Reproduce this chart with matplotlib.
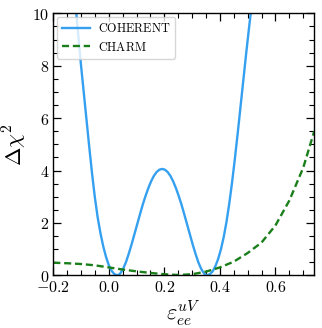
import matplotlib
matplotlib.use("Agg")
import matplotlib.pyplot as plt
from matplotlib.ticker import MultipleLocator, FuncFormatter

plt.rcParams['mathtext.fontset'] = 'cm'
plt.rcParams['font.family'] = ['DejaVu Serif']

# COHERENT curve
coh_x = [-0.125, -0.117, -0.110, -0.100, -0.090, -0.080, -0.070, -0.060, -0.050, -0.040,
         -0.030, -0.020, -0.010, 0.000, 0.010, 0.020, 0.030, 0.037, 0.042, 0.052,
         0.062, 0.072, 0.082, 0.092, 0.102, 0.112, 0.122, 0.132, 0.142, 0.152,
         0.162, 0.172, 0.182, 0.192, 0.202, 0.212, 0.222, 0.232, 0.242, 0.252,
         0.262, 0.272, 0.282, 0.292, 0.302, 0.312, 0.322, 0.332, 0.342, 0.347,
         0.354, 0.364, 0.374, 0.384, 0.394, 0.404, 0.414, 0.424, 0.434, 0.444,
         0.454, 0.464, 0.474, 0.484, 0.494, 0.504, 0.511, 0.520]
coh_y = [11.0, 10.0, 9.15, 8.0, 6.95, 5.9, 4.85, 3.85, 2.95, 2.2,
         1.6, 1.1, 0.7, 0.38, 0.17, 0.045, 0.0, 0.029, 0.083, 0.26,
         0.51, 0.83, 1.18, 1.56, 1.94, 2.32, 2.69, 3.02, 3.32, 3.58,
         3.79, 3.94, 4.03, 4.06, 4.03, 3.94, 3.79, 3.58, 3.32, 3.02,
         2.69, 2.32, 1.94, 1.56, 1.18, 0.83, 0.51, 0.26, 0.083, 0.029,
         0.0, 0.04, 0.15, 0.35, 0.63, 1.0, 1.47, 2.05, 2.75, 3.55,
         4.45, 5.4, 6.4, 7.4, 8.4, 9.35, 10.0, 10.9]

# CHARM curve
charm_x = [-0.2, -0.15, -0.1, -0.05, 0.0, 0.05, 0.1, 0.15, 0.2, 0.25, 0.3, 0.35,
           0.4, 0.45, 0.5, 0.55, 0.6, 0.65, 0.7, 0.74]
charm_y = [0.48, 0.46, 0.43, 0.38, 0.30, 0.22, 0.15, 0.09, 0.04, 0.01, 0.04, 0.14,
           0.30, 0.52, 0.85, 1.25, 1.9, 2.85, 4.1, 5.5]

fig = plt.figure(figsize=(3.22, 3.28), dpi=100)
ax = fig.add_axes([0.1655, 0.1607, 0.8105, 0.7987])

ax.plot(coh_x, coh_y, color='#35a0f0', lw=1.7, label=r'$\mathrm{COHERENT}$')
ax.plot(charm_x, charm_y, color='#1a7f1a', lw=1.7, ls=(0, (3.0, 1.6)), label=r'$\mathrm{CHARM}$')

ax.set_xlim(-0.2, 0.74)
ax.set_ylim(0, 10)
ax.xaxis.set_major_locator(MultipleLocator(0.2))
ax.xaxis.set_minor_locator(MultipleLocator(0.05))
ax.yaxis.set_major_locator(MultipleLocator(2))
ax.yaxis.set_minor_locator(MultipleLocator(0.5))

def fx(v, p):
    s = f"{v:.1f}"
    if s == "-0.0":
        s = "0.0"
    return "$" + s + "$"

def fy(v, p):
    return f"${int(round(v))}$"

ax.xaxis.set_major_formatter(FuncFormatter(fx))
ax.yaxis.set_major_formatter(FuncFormatter(fy))
ax.tick_params(which='both', direction='in', top=True, right=True, labelsize=11.5)
ax.tick_params(which='major', length=6, width=0.9, pad=3)
ax.tick_params(which='minor', length=3.5, width=0.8)
for s in ax.spines.values():
    s.set_linewidth(1.0)

ax.set_xlabel(r'$\varepsilon_{ee}^{uV}$', fontsize=16, labelpad=1)
ax.set_ylabel(r'$\Delta\chi^2$', fontsize=16, labelpad=2)

leg = ax.legend(loc='upper left', fontsize=8.8, frameon=True, fancybox=True,
                borderaxespad=0.3, handlelength=2.3, handletextpad=0.65,
                labelspacing=0.47)
leg.get_frame().set_edgecolor('#cccccc')

fig.savefig('out.png', dpi=100)
